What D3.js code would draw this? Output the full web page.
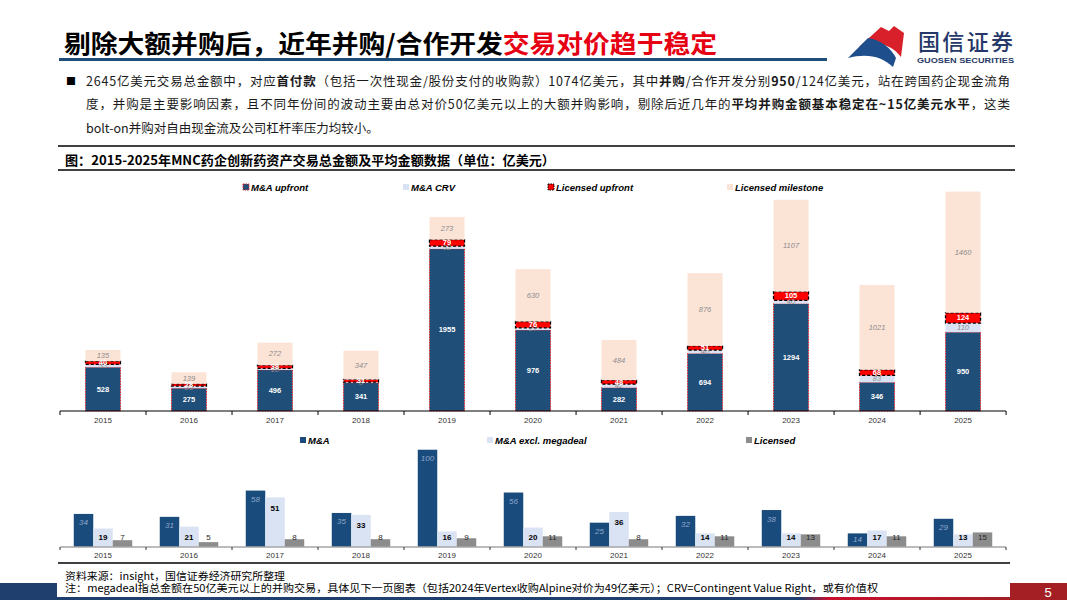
<!DOCTYPE html>
<html>
<head>
<meta charset="utf-8">
<script src="https://cdn.jsdelivr.net/npm/d3@7"></script>
<style>
  body { margin: 0; background: #fff; }
  svg { display: block; font-family: "Liberation Sans", Arial, sans-serif; }
  .cjk { font-family: "Noto Sans CJK SC", sans-serif; }
</style>
</head>
<body>
<div id="chart"></div>
<script>
// data (亿美元)
const years = ["2015", "2016", "2017", "2018", "2019", "2020", "2021", "2022", "2023", "2024", "2025"];
const maUpfront = [528, 275, 496, 341, 1955, 976, 282, 694, 1294, 346, 950];
const maCrv = [33, 25, 18, 8, 32, 27, 42, 40, 40, 83, 110];
const licUpfront = [40, 28, 38, 31, 79, 76, 48, 51, 105, 68, 124];
const licMilestone = [135, 139, 272, 347, 273, 630, 484, 876, 1107, 1021, 1460];

const avgMA = [34, 31, 58, 35, 100, 56, 25, 32, 38, 14, 29];
const avgMAExcl = [19, 21, 51, 33, 16, 20, 36, 14, 14, 17, 13];
const avgLic = [7, 5, 8, 8, 9, 11, 8, 11, 13, 11, 15];

const topKeys = ["M&A upfront", "M&A CRV", "Licensed upfront", "Licensed milestone"];
const bottomKeys = ["M&A", "M&A excl. megadeal", "Licensed"];

const W = 1067, H = 600;
const svg = d3.select("#chart").append("svg").attr("width", W).attr("height", H);

// ---------- header ----------
const title = svg.append("text").attr("class", "cjk")
  .attr("x", 64).attr("y", 42).attr("dominant-baseline", "central")
  .attr("font-size", 25).attr("font-weight", 700)
  .attr("textLength", 653).attr("lengthAdjust", "spacingAndGlyphs");
title.append("tspan").attr("fill", "#000").text("剔除大额并购后，近年并购/合作开发");
title.append("tspan").attr("fill", "#e60012").text("交易对价趋于稳定");

svg.append("rect").attr("x", 59).attr("y", 58).attr("width", 768).attr("height", 3).attr("fill", "#1f4e79");

// logo
const logo = svg.append("g");
logo.append("path").attr("fill", "#d7202a")
  .attr("d", "M859,47 L881,27 L889,31 L894,26 L904,33 L901,57 C895,49 886,44 877,44 Z");
logo.append("path").attr("fill", "#1f4e8c")
  .attr("d", "M848,58 L868,38 C881,40 891,48 896,58 L893,67 C882,56 866,53 848,58 Z");
logo.append("text").attr("class", "cjk").attr("x", 918).attr("y", 40)
  .attr("dominant-baseline", "central").attr("font-size", 22).attr("font-weight", 500)
  .attr("fill", "#263868").attr("textLength", 95).text("国信证券");
logo.append("text").attr("x", 917).attr("y", 60).attr("dominant-baseline", "central")
  .attr("font-size", 8).attr("font-weight", 700).attr("fill", "#263868")
  .attr("textLength", 97).attr("lengthAdjust", "spacingAndGlyphs").text("GUOSEN SECURITIES");

// bullet text
svg.append("text").attr("class", "cjk").attr("x", 66).attr("y", 80).attr("dominant-baseline", "central")
  .attr("font-size", 10).attr("fill", "#000").text("■");

const bodyLines = [
  { y: 80, len: 924, parts: [["2645亿美元交易总金额中，对应", 0], ["首付款", 1], ["（包括一次性现金/股份支付的收购款）1074亿美元，其中", 0], ["并购", 1], ["/合作开发分别", 0], ["950", 1], ["/124亿美元，站在跨国药企现金流角", 0]] },
  { y: 103, len: 924, parts: [["度，并购是主要影响因素，且不同年份间的波动主要由总对价50亿美元以上的大额并购影响，剔除后近几年的", 0], ["平均并购金额基本稳定在~15亿美元水平", 1], ["，这类", 0]] },
  { y: 127, len: null, parts: [["bolt-on并购对自由现金流及公司杠杆率压力均较小。", 0]] }
];
bodyLines.forEach(l => {
  const t = svg.append("text").attr("class", "cjk").attr("x", 86).attr("y", l.y)
    .attr("dominant-baseline", "central").attr("font-size", 12.5).attr("fill", "#1a1a1a");
  if (l.len) t.attr("textLength", l.len).attr("lengthAdjust", "spacing");
  l.parts.forEach(p => t.append("tspan").attr("font-weight", p[1] ? 700 : 400).text(p[0]));
});

svg.append("line").attr("x1", 58).attr("x2", 1015).attr("y1", 146).attr("y2", 146).attr("stroke", "#000").attr("stroke-width", 1.3);
svg.append("text").attr("class", "cjk").attr("x", 65).attr("y", 159).attr("dominant-baseline", "central")
  .attr("font-size", 13).attr("font-weight", 700).attr("fill", "#000")
  .attr("textLength", 490).attr("lengthAdjust", "spacingAndGlyphs")
  .text("图：2015-2025年MNC药企创新药资产交易总金额及平均金额数据（单位：亿美元）");
svg.append("line").attr("x1", 58).attr("x2", 1015).attr("y1", 170).attr("y2", 170).attr("stroke", "#000").attr("stroke-width", 1.3);

// ---------- top chart: stacked totals ----------
const x = d3.scaleBand().domain(years).range([60, 1006]).paddingInner(0.593).paddingOuter(0.296);
const y = d3.scaleLinear().domain([0, 2700]).range([411, 187]);

const topData = years.map((yr, i) => ({
  year: yr,
  "M&A upfront": maUpfront[i],
  "M&A CRV": maCrv[i],
  "Licensed upfront": licUpfront[i],
  "Licensed milestone": licMilestone[i]
}));
const stacked = d3.stack().keys(topKeys)(topData);

const topStyle = {
  "M&A upfront": { fill: "#1f4e79", stroke: "#e0242a", sw: 1, dash: "1.5 1.2", label: "#fff", weight: 700, italic: false },
  "M&A CRV": { fill: "#dae3f3", stroke: "none", sw: 0, dash: null, label: "#8c8c8c", weight: 400, italic: true },
  "Licensed upfront": { fill: "#ff0000", stroke: "#000", sw: 1.3, dash: "3 2", label: "#fff", weight: 700, italic: false },
  "Licensed milestone": { fill: "#fbe3d6", stroke: "none", sw: 0, dash: null, label: "#8c8c8c", weight: 400, italic: true }
};

const gTop = svg.append("g");
stacked.forEach(layer => {
  const st = topStyle[layer.key];
  const g = gTop.append("g");
  g.selectAll("rect").data(layer).join("rect")
    .attr("x", d => x(d.data.year))
    .attr("y", d => y(d[1]))
    .attr("width", x.bandwidth())
    .attr("height", d => y(d[0]) - y(d[1]))
    .attr("fill", st.fill)
    .attr("stroke", st.stroke)
    .attr("stroke-width", st.sw)
    .attr("stroke-dasharray", st.dash);
});
stacked.forEach(layer => {
  const st = topStyle[layer.key];
  gTop.append("g").selectAll("text").data(layer).join("text")
    .attr("x", d => x(d.data.year) + x.bandwidth() / 2)
    .attr("y", d => (y(d[0]) + y(d[1])) / 2)
    .attr("text-anchor", "middle").attr("dominant-baseline", "central")
    .attr("font-size", 7.5).attr("fill", st.label)
    .attr("font-weight", st.weight).attr("font-style", st.italic ? "italic" : "normal")
    .text(d => d[1] - d[0]);
});

// x axis top
const axTop = svg.append("g").attr("transform", "translate(0,411)")
  .call(d3.axisBottom(x).tickSize(0).tickPadding(6));
axTop.select(".domain").attr("stroke", "#000").attr("stroke-width", 1.2).attr("d", "M60,0H1006");
axTop.selectAll("text").attr("font-size", 8).attr("fill", "#333").attr("font-family", "Liberation Sans, Arial");
d3.range(years.length + 1).forEach(i => {
  const bx = 60 + i * x.step();
  axTop.append("line").attr("x1", bx).attr("x2", bx).attr("y1", 0).attr("y2", 4).attr("stroke", "#000");
});

// top legend
const topLegendX = [243, 403, 548, 727];
const legTop = svg.append("g");
topKeys.forEach((k, i) => {
  const st = topStyle[k];
  legTop.append("rect").attr("x", topLegendX[i]).attr("y", 184).attr("width", 6).attr("height", 6)
    .attr("fill", st.fill).attr("stroke", st.stroke === "none" ? "none" : st.stroke)
    .attr("stroke-width", 1).attr("stroke-dasharray", st.dash ? "1.5 1" : null);
  legTop.append("text").attr("x", topLegendX[i] + 8).attr("y", 187.5).attr("dominant-baseline", "central")
    .attr("font-size", 9.5).attr("font-weight", 700).attr("font-style", "italic").attr("fill", "#000").text(k);
});

// ---------- bottom chart: averages ----------
const x0 = d3.scaleBand().domain(years).range([60, 1006]).paddingInner(0.32).paddingOuter(0.16);
const x1 = d3.scaleBand().domain(bottomKeys).range([0, x0.bandwidth()]).padding(0);
const y2 = d3.scaleLinear().domain([0, 110]).range([547, 440]);

const bottomData = years.map((yr, i) => ({
  year: yr,
  vals: [
    { key: "M&A", v: avgMA[i] },
    { key: "M&A excl. megadeal", v: avgMAExcl[i] },
    { key: "Licensed", v: avgLic[i] }
  ]
}));
const botColor = { "M&A": "#1a4b7d", "M&A excl. megadeal": "#dae3f3", "Licensed": "#8c8c8c" };

const gBot = svg.append("g");
const grp = gBot.selectAll("g").data(bottomData).join("g")
  .attr("transform", d => `translate(${x0(d.year)},0)`);
grp.selectAll("rect").data(d => d.vals).join("rect")
  .attr("x", d => x1(d.key)).attr("y", d => y2(d.v))
  .attr("width", x1.bandwidth()).attr("height", d => y2(0) - y2(d.v))
  .attr("fill", d => botColor[d.key]);
grp.selectAll("text").data(d => d.vals).join("text")
  .attr("x", d => x1(d.key) + x1.bandwidth() / 2)
  .attr("y", d => {
    if (d.key === "M&A") return Math.min(y2(d.v) + 9, 539);
    if (d.key === "M&A excl. megadeal") return Math.min(y2(d.v) + 11, 537);
    return 537;
  })
  .attr("text-anchor", "middle").attr("dominant-baseline", "central")
  .attr("font-size", 8)
  .attr("font-style", d => d.key === "M&A" ? "italic" : "normal")
  .attr("font-weight", d => d.key === "M&A excl. megadeal" ? 700 : 400)
  .attr("fill", d => d.key === "M&A" ? "#8fa9cc" : (d.key === "Licensed" ? "#262626" : "#000"))
  .text(d => d.v);

const axBot = svg.append("g").attr("transform", "translate(0,547)")
  .call(d3.axisBottom(x0).tickSize(0).tickPadding(5));
axBot.select(".domain").attr("stroke", "#a6a6a6").attr("stroke-width", 1.5).attr("d", "M60,0H1006");
axBot.selectAll("text").attr("font-size", 8).attr("fill", "#333").attr("font-family", "Liberation Sans, Arial");
d3.range(years.length + 1).forEach(i => {
  const bx = 60 + i * x0.step();
  axBot.append("line").attr("x1", bx).attr("x2", bx).attr("y1", 0).attr("y2", 3).attr("stroke", "#333");
});

const botLegendX = [300, 487, 746];
const legBot = svg.append("g");
bottomKeys.forEach((k, i) => {
  legBot.append("rect").attr("x", botLegendX[i]).attr("y", 437).attr("width", 6).attr("height", 6)
    .attr("fill", botColor[k]);
  legBot.append("text").attr("x", botLegendX[i] + 8).attr("y", 440.5).attr("dominant-baseline", "central")
    .attr("font-size", 9.5).attr("font-weight", 700).attr("font-style", "italic").attr("fill", "#000").text(k);
});

svg.append("line").attr("x1", 58).attr("x2", 1010).attr("y1", 563).attr("y2", 563).attr("stroke", "#000").attr("stroke-width", 1.3);

// ---------- footer ----------
svg.append("text").attr("class", "cjk").attr("x", 65).attr("y", 575).attr("dominant-baseline", "central")
  .attr("font-size", 10.5).attr("fill", "#000")
  .attr("textLength", 220).attr("lengthAdjust", "spacingAndGlyphs")
  .text("资料来源：insight，国信证券经济研究所整理");
svg.append("text").attr("class", "cjk").attr("x", 65).attr("y", 587.5).attr("dominant-baseline", "central")
  .attr("font-size", 10.5).attr("fill", "#000")
  .attr("textLength", 813).attr("lengthAdjust", "spacingAndGlyphs")
  .text("注：megadeal指总金额在50亿美元以上的并购交易，具体见下一页图表（包括2024年Vertex收购Alpine对价为49亿美元）；CRV=Contingent Value Right，或有价值权");

const defs = svg.append("defs");
const grad = defs.append("linearGradient").attr("id", "footGrad").attr("x1", "0").attr("x2", "1");
grad.append("stop").attr("offset", "0%").attr("stop-color", "#1f3f6e");
grad.append("stop").attr("offset", "78%").attr("stop-color", "#1f3f6e");
grad.append("stop").attr("offset", "81%").attr("stop-color", "#c8102e");
grad.append("stop").attr("offset", "100%").attr("stop-color", "#a31f24");

svg.append("rect").attr("x", 0).attr("y", 583).attr("width", 57).attr("height", 17).attr("fill", "#1f3f6e");
svg.append("rect").attr("x", 57).attr("y", 597).attr("width", 953).attr("height", 3).attr("fill", "url(#footGrad)");
svg.append("rect").attr("x", 1010).attr("y", 583).attr("width", 57).attr("height", 17).attr("fill", "#a31f24");
svg.append("text").attr("x", 1048).attr("y", 592).attr("text-anchor", "middle").attr("dominant-baseline", "central")
  .attr("font-size", 13).attr("fill", "#fff").text("5");
</script>
</body>
</html>
